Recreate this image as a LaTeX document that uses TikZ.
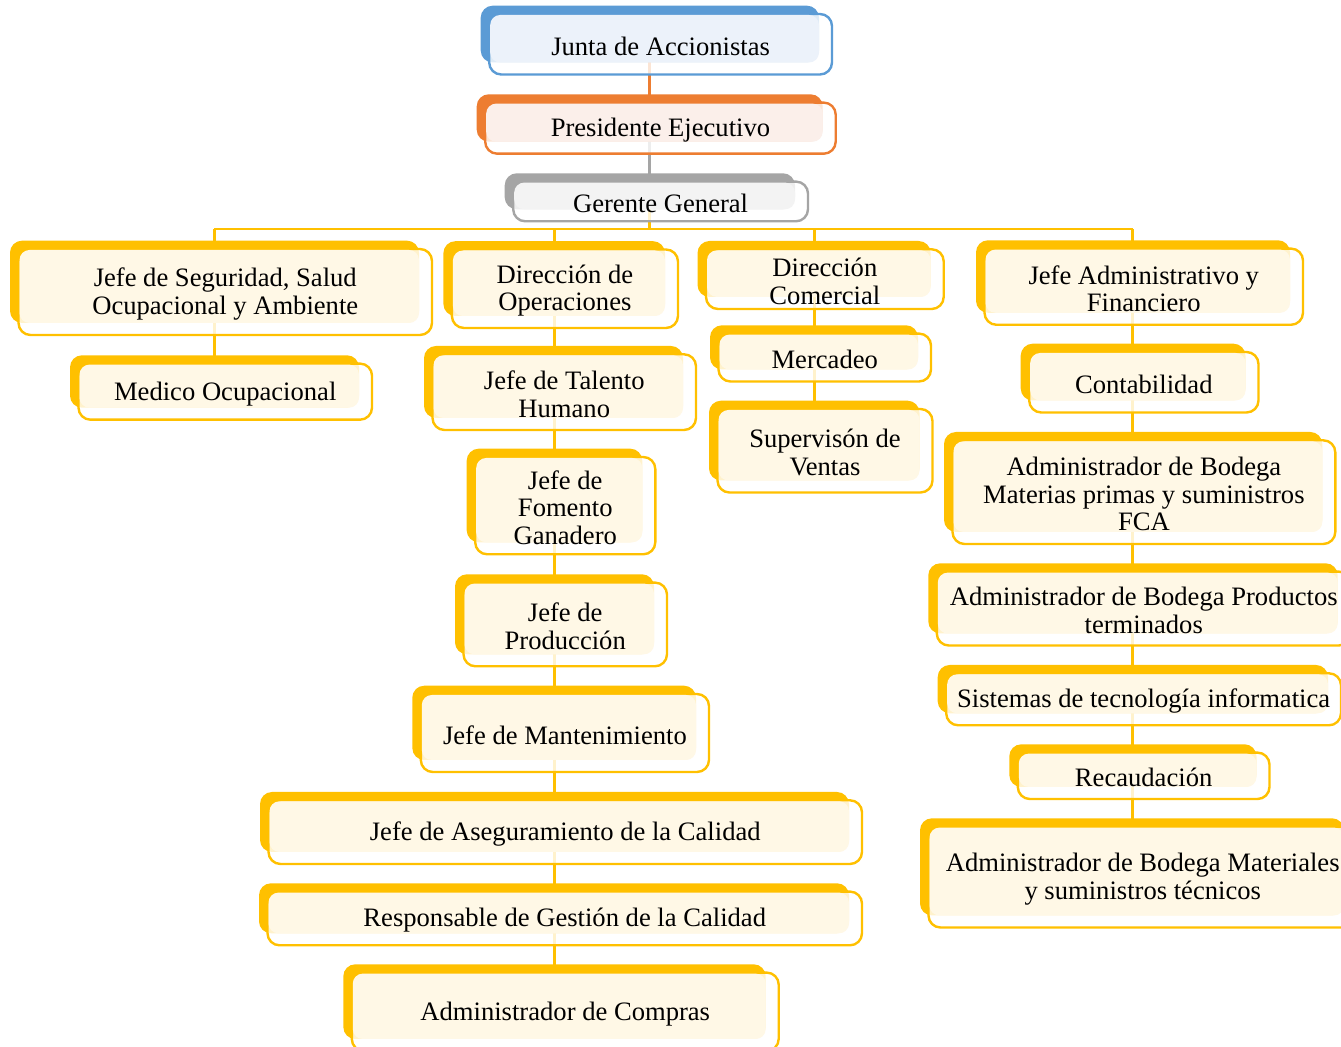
\documentclass[tikz,border=0pt]{standalone}
\usepackage{fontspec}
\setmainfont{Liberation Serif}

\definecolor{blu}{HTML}{5B9BD5}
\definecolor{blulight}{HTML}{ECF2FA}
\definecolor{ora}{HTML}{ED7D31}
\definecolor{oralight}{HTML}{FBEFEA}
\definecolor{gry}{HTML}{A5A5A5}
\definecolor{grylight}{HTML}{F3F3F3}
\definecolor{yel}{HTML}{FFC000}
\definecolor{yellight}{HTML}{FFF8E6}

\pgfdeclarelayer{bg}
\pgfsetlayers{bg,main}

\tikzset{
  frontbox/.style={line width=1.2pt, fill=white, fill opacity=0.8, rounded corners=6},
  boxtext/.style={inner sep=0pt, align=center, text=black, font=\fontsize{13.3}{13.8}\selectfont},
  conn/.style={line width=1.4pt, draw=yel},
}

% \orgbox[colour]{name}{x0}{y0}{x1}{y1}{text}: solid back card (x0,y0)-(x1,y1),
% framed front card shifted down-right, tinted overlap, centred text
\newcommand\orgbox[7][yel]{%
  \pgfmathsetmacro\bxa{#3+8.5}\pgfmathsetmacro\bya{#4+8.3}%
  \pgfmathsetmacro\bxb{#5+13}\pgfmathsetmacro\byb{#6+12}%
  \pgfmathsetmacro\bxc{(\bxa+\bxb)/2}\pgfmathsetmacro\byc{(\bya+\byb)/2+2}%
  \fill[#1, rounded corners=6] (#3,#4) rectangle (#5,#6);
  \filldraw[frontbox, draw=#1] (\bxa,\bya) rectangle (\bxb,\byb);
  \fill[#1light, rounded corners=5] (\bxa+1,\bya+1) rectangle (#5,#6);
  \node[boxtext] (#2) at (\bxc,\byc) {#7};
}

\begin{document}
\begin{tikzpicture}[x=0.5pt,y=-0.5pt]
\useasboundingbox (0,0) rectangle (1341,1047);
\clip (0,0) rectangle (1341,1047);

% top of the hierarchy
\orgbox[blu]{junta}{480.7}{5.7}{819}{62.5}{Junta de Accionistas}
\orgbox[ora]{pres}{476.7}{94.3}{822.7}{141.7}{Presidente Ejecutivo}
\orgbox[gry]{gg}{504.7}{173.3}{795}{209.3}{Gerente General}

% safety column
\orgbox{seg}{10}{240.7}{419}{323}{Jefe de Seguridad, Salud\\Ocupacional y Ambiente}
\orgbox{med}{70}{355.3}{359}{407.7}{Medico Ocupacional}

% operations column
\orgbox{ops}{443.4}{241.2}{665}{316}{Dirección de\\Operaciones}
\orgbox{tal}{424}{346}{683}{418}{Jefe de Talento\\Humano}
\orgbox{fom}{466.7}{448.7}{642.3}{542.3}{Jefe de\\Fomento\\Ganadero}
\orgbox{prod}{455}{574.3}{654}{654.3}{Jefe de\\Producción}
\orgbox{mant}{412.3}{685.7}{696}{760}{Jefe de Mantenimiento}
\orgbox{ase}{260}{792}{849}{852}{Jefe de Aseguramiento de la Calidad}
\orgbox{resp}{259}{883.3}{849}{933.3}{Responsable de Gestión de la Calidad}
\orgbox{comp}{343.3}{964.3}{765.7}{1039}{Administrador de Compras}

% commercial column
\orgbox{com}{697.5}{241}{930.7}{297}{Dirección\\Comercial}
\orgbox{merc}{710}{325.3}{918}{369.5}{Mercadeo}
\orgbox{sup}{709}{400.7}{919.5}{480.5}{Supervisón de\\Ventas}

% administration column
\orgbox{adm}{976}{240.3}{1290}{312.8}{Jefe Administrativo y\\Financiero}
\orgbox{cont}{1020.7}{343.7}{1245.5}{400.5}{Contabilidad}
\orgbox{mp}{944}{432}{1322.3}{532}{Administrador de Bodega\\Materias primas y suministros\\FCA}
\orgbox{prodt}{928.3}{563.3}{1337.7}{633.5}{Administrador de Bodega Productos\\terminados}
\orgbox{sis}{937.7}{665}{1328}{713.3}{Sistemas de tecnología informatica}
\orgbox{rec}{1009.3}{744.3}{1256.5}{787}{Recaudación}
\orgbox{mat}{920}{818.3}{1344}{915.5}{Administrador de Bodega Materiales\\y suministros técnicos}

% column positions on the distribution bus
\coordinate (xTop) at (649.5,229);
\coordinate (xSeg) at (214.3,229);
\coordinate (xOps) at (554.3,229);
\coordinate (xCom) at (814.5,229);
\coordinate (xAdm) at (1132.5,229);

\begin{pgfonlayer}{bg}
  \draw[conn, draw=ora] (junta.center -| xTop) -- (pres.center -| xTop);
  \draw[conn, draw=gry] (pres.center -| xTop) -- (gg.center -| xTop);
  \draw[conn] (gg.center -| xTop) -- (xTop);
  \draw[conn] (xSeg) -- (xAdm);
  \draw[conn] (xSeg) -- (seg.center -| xSeg) -- (med.center -| xSeg);
  \draw[conn] (xOps) -- (ops.center -| xOps) -- (tal.center -| xOps)
    -- (fom.center -| xOps) -- (prod.center -| xOps) -- (mant.center -| xOps)
    -- (ase.center -| xOps) -- (resp.center -| xOps) -- (comp.center -| xOps);
  \draw[conn] (xCom) -- (com.center -| xCom) -- (merc.center -| xCom) -- (sup.center -| xCom);
  \draw[conn] (xAdm) -- (adm.center -| xAdm) -- (cont.center -| xAdm)
    -- (mp.center -| xAdm) -- (prodt.center -| xAdm) -- (sis.center -| xAdm)
    -- (rec.center -| xAdm) -- (mat.center -| xAdm);
\end{pgfonlayer}
\end{tikzpicture}
\end{document}
